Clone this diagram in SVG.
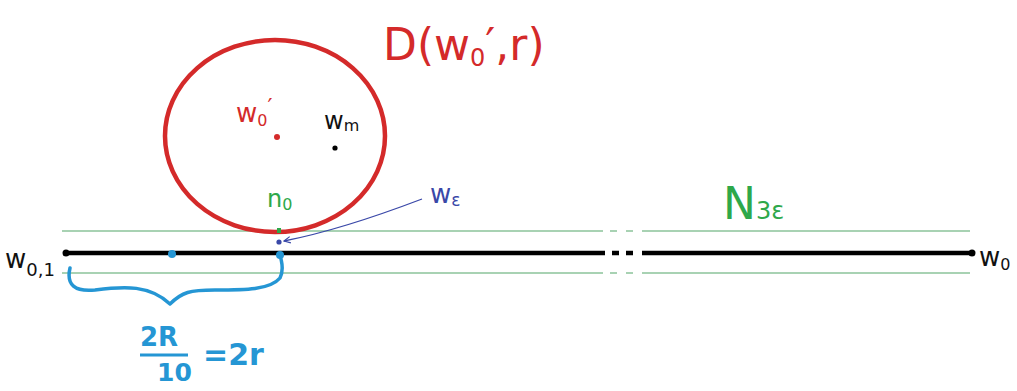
<svg xmlns="http://www.w3.org/2000/svg" width="1017" height="391" viewBox="0 0 1017 391">
<style>
text{font-family:"DejaVu Sans","Liberation Sans",sans-serif}
.red{fill:#d42a2a}
.blk{fill:#111}
.grn{fill:#2ea84a}
.blu{fill:#3a48a8}
.cyn{fill:#2596d4}
.gl{stroke:#8cc49a;stroke-width:1.6;fill:none}
.bl{stroke:#000;stroke-width:4.5;fill:none}
</style>
<defs>
<marker id="ah" viewBox="0 0 10 10" refX="9" refY="5" markerWidth="8" markerHeight="8" orient="auto" markerUnits="userSpaceOnUse">
<path d="M1,1 L9,5 L1,9" fill="none" stroke="#3a48a8" stroke-width="1.5"/>
</marker>
</defs>
<rect width="1017" height="391" fill="#fff"/>
<g id="connectors">
<g id="nbhd">
<path class="gl" d="M62,231 H603 M610,231 H617 M626,231 H633 M642,231 H970"/>
<path class="gl" d="M62,273 H603 M610,273 H617 M626,273 H633 M642,273 H970"/>
</g>
<g id="segment">
<path class="bl" d="M66,253 H605 M612,253 H619 M626,253 H633 M642,253 H972"/>
<circle cx="66" cy="253" r="3.5" fill="#000"/>
<circle cx="972" cy="253" r="3.5" fill="#000"/>
</g>
<path id="arrow" d="M422,199 C380,215 330,232 284,241" fill="none" stroke="#3a48a8" stroke-width="1.3" marker-end="url(#ah)"/>
<path id="brace" d="M70,268 C66,285 75,292 95,290 C125,286 150,285 170,304 C182,292 190,290 215,290 C245,290 270,290 280,278 C284,270 282,264 281,259" fill="none" stroke="#2596d4" stroke-width="3.5" stroke-linecap="round" stroke-linejoin="round"/>
</g>
<g id="disk">
<ellipse cx="275" cy="136" rx="110" ry="96" fill="none" stroke="#d42a2a" stroke-width="4.5"/>
<text x="383" y="60" class="red" font-size="44">D(w<tspan font-size="24" dy="6">0</tspan><tspan dy="-6">′,r)</tspan></text>
</g>
<g id="w0prime">
<circle cx="277" cy="137" r="3" fill="#d42a2a"/>
<text x="236" y="122" class="red" font-size="26">w<tspan font-size="16" dy="4">0</tspan><tspan dy="-12" font-size="22">′</tspan></text>
</g>
<g id="wm">
<circle cx="335" cy="148" r="2.6" fill="#000"/>
<text x="324" y="129" class="blk" font-size="24">w<tspan font-size="16" dy="2">m</tspan></text>
</g>
<g id="n0">
<rect x="277" y="228" width="4" height="5" fill="#2ea84a"/>
<text x="267" y="207" class="grn" font-size="24">n<tspan font-size="16" dy="3">0</tspan></text>
</g>
<g id="weps">
<circle cx="279" cy="242" r="2.6" fill="#3a48a8"/>
<text x="430" y="203" class="blu" font-size="26">w<tspan font-size="17" dy="3">ε</tspan></text>
</g>
<g id="N3e">
<text x="723" y="219" class="grn" font-size="44">N<tspan font-size="24">3ε</tspan></text>
</g>
<g id="w01">
<text x="5" y="268" class="blk" font-size="26">w<tspan font-size="18" dy="8">0,1</tspan></text>
</g>
<g id="w02">
<text x="979" y="266" class="blk" font-size="26">w<tspan font-size="16" dy="4">0</tspan></text>
</g>
<g id="pts">
<circle cx="172" cy="254" r="4" fill="#2596d4"/>
<circle cx="280" cy="255" r="4" fill="#2596d4"/>
</g>
<g id="formula">
<text x="140" y="346" class="cyn" font-size="26" font-weight="bold">2R</text>
<line x1="140" y1="355" x2="188" y2="355" stroke="#2596d4" stroke-width="3"/>
<text x="157" y="381" class="cyn" font-size="25" font-weight="bold">10</text>
<text x="203" y="365" class="cyn" font-size="30" font-weight="bold">=2r</text>
</g>
</svg>
